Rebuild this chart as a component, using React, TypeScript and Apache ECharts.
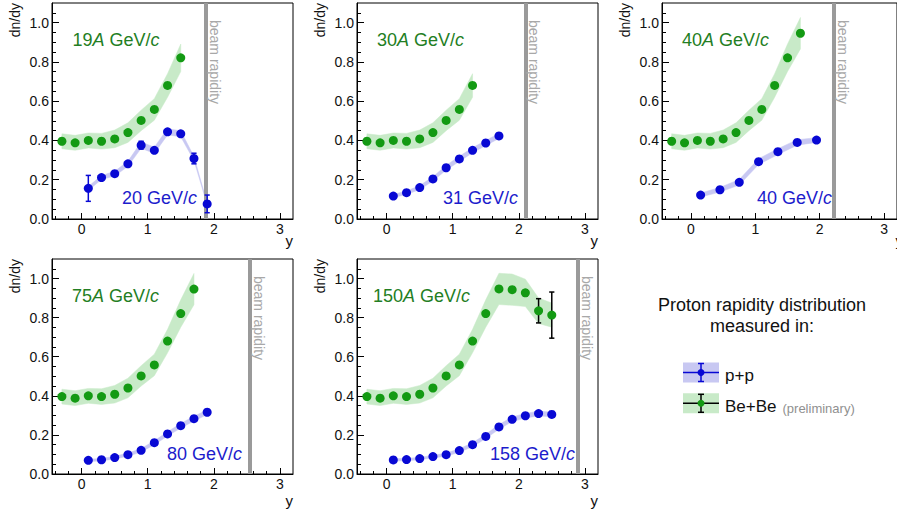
import React, { useEffect, useRef } from "react";
import * as echarts from "echarts";

const FONT = "'Liberation Sans', Arial, Helvetica, sans-serif";

// ---- tick values ----
const xMajor = [0, 1, 2, 3];
const xMinor = [-0.4, -0.2, 0.2, 0.4, 0.6, 0.8, 1.2, 1.4, 1.6, 1.8, 2.2, 2.4, 2.6, 2.8];
const yMajor = [0, 0.2, 0.4, 0.6, 0.8, 1.0];
const yMinor = [0.05, 0.1, 0.15, 0.25, 0.3, 0.35, 0.45, 0.5, 0.55, 0.65, 0.7, 0.75, 0.85, 0.9, 0.95, 1.05];

// ---- Be+Be (preliminary) ----
const beX = [-0.3, -0.1, 0.1, 0.3, 0.5, 0.7, 0.9, 1.1, 1.3, 1.5, 1.7, 1.9, 2.1, 2.3, 2.5];
const be19 = [0.396, 0.388, 0.4, 0.396, 0.408, 0.44, 0.502, 0.558, 0.68, 0.821];
const be30 = [0.396, 0.388, 0.4, 0.396, 0.408, 0.44, 0.502, 0.558, 0.68];
const be40 = [0.396, 0.388, 0.4, 0.396, 0.408, 0.44, 0.502, 0.558, 0.68, 0.821, 0.946];
const be75 = [0.396, 0.388, 0.4, 0.396, 0.408, 0.44, 0.502, 0.558, 0.68, 0.821, 0.946];
const be150 = [0.396, 0.388, 0.4, 0.396, 0.408, 0.44, 0.502, 0.558, 0.68, 0.821, 0.947, 0.943, 0.927, 0.835, 0.813];
const beStat = [0.006, 0.006, 0.006, 0.006, 0.006, 0.006, 0.007, 0.007, 0.008, 0.009, 0.01, 0.012, 0.015, 0.062, 0.118];
const beSys = [0.038, 0.038, 0.038, 0.04, 0.045, 0.05, 0.052, 0.055, 0.06, 0.07, 0.08, 0.08, 0.07, 0.065, 0.062];

// ---- p+p ----
const ppX20 = [0.1, 0.3, 0.5, 0.7, 0.9, 1.1, 1.3, 1.5, 1.7, 1.9];
const pp20 = [0.156, 0.211, 0.231, 0.281, 0.376, 0.35, 0.444, 0.434, 0.308, 0.077];
const pp20Stat = [0.066, 0.008, 0.008, 0.008, 0.02, 0.01, 0.012, 0.013, 0.027, 0.045];
const pp20Sys = [0.01, 0.01, 0.012, 0.013, 0.016, 0.016, 0.016, 0.015, 0.01, 0.004];

const ppX31 = [0.1, 0.3, 0.5, 0.7, 0.9, 1.1, 1.3, 1.5, 1.7];
const pp31 = [0.117, 0.134, 0.16, 0.204, 0.261, 0.306, 0.35, 0.387, 0.423];
const pp31Stat = [0.004, 0.004, 0.004, 0.004, 0.004, 0.005, 0.005, 0.005, 0.006];
const pp31Sys = [0.008, 0.009, 0.01, 0.011, 0.012, 0.013, 0.013, 0.013, 0.013];

const ppX40 = [0.15, 0.45, 0.75, 1.05, 1.35, 1.65, 1.95];
const pp40 = [0.122, 0.149, 0.187, 0.292, 0.343, 0.39, 0.402];
const pp40Stat = [0.004, 0.004, 0.004, 0.005, 0.005, 0.005, 0.006];
const pp40Sys = [0.01, 0.012, 0.014, 0.015, 0.015, 0.014, 0.012];

const ppX80 = [0.1, 0.3, 0.5, 0.7, 0.9, 1.1, 1.3, 1.5, 1.7, 1.9];
const pp80 = [0.07, 0.073, 0.084, 0.099, 0.121, 0.16, 0.205, 0.247, 0.283, 0.316];
const pp80Stat = [0.003, 0.003, 0.003, 0.003, 0.003, 0.004, 0.004, 0.004, 0.004, 0.005];
const pp80Sys = [0.006, 0.006, 0.007, 0.008, 0.009, 0.01, 0.011, 0.012, 0.012, 0.012];

const ppX158 = [0.1, 0.3, 0.5, 0.7, 0.9, 1.1, 1.3, 1.5, 1.7, 1.9, 2.1, 2.3, 2.5];
const pp158 = [0.072, 0.074, 0.079, 0.089, 0.099, 0.12, 0.15, 0.192, 0.241, 0.28, 0.298, 0.309, 0.305];
const pp158Stat = [0.003, 0.003, 0.003, 0.003, 0.003, 0.003, 0.004, 0.004, 0.004, 0.005, 0.005, 0.006, 0.015];
const pp158Sys = [0.006, 0.006, 0.006, 0.007, 0.008, 0.009, 0.01, 0.011, 0.012, 0.012, 0.012, 0.012, 0.012];

// beam rapidity per panel
const beamRapidity = [1.88, 2.1, 2.22, 2.55, 2.89];
const beLabels = ["19", "30", "40", "75", "150"];
const ppLabels = ["20", "31", "40", "80", "158"];

// ---- styles ----
const BLUE = "#0808d4";
const BLUE_TEXT = "#1c1ccc";
const BLUE_BAND = "#c8c8f2";
const GREEN = "#139a13";
const GREEN_TEXT = "#237e23";
const GREEN_BAND = "#c8eac8";
const GRAY_LINE = "#9a9a9a";
const GRAY_TEXT = "#a8a8a8";

const panels = [
  { beY: be19, ppX: ppX20, ppY: pp20, ppStat: pp20Stat, ppSys: pp20Sys },
  { beY: be30, ppX: ppX31, ppY: pp31, ppStat: pp31Stat, ppSys: pp31Sys },
  { beY: be40, ppX: ppX40, ppY: pp40, ppStat: pp40Stat, ppSys: pp40Sys },
  { beY: be75, ppX: ppX80, ppY: pp80, ppStat: pp80Stat, ppSys: pp80Sys },
  { beY: be150, ppX: ppX158, ppY: pp158, ppStat: pp158Stat, ppSys: pp158Sys },
];

const layout = [
  { left: 52, top: 3, height: 216, greenDx: 20.5, blueRight: 145, yLabelY: 240 },
  { left: 357, top: 3, height: 216, greenDx: 20, blueRight: 161, yLabelY: 240 },
  { left: 662, top: 3, height: 216, greenDx: 20, blueRight: 170, yLabelY: 240 },
  { left: 52, top: 259, height: 215, greenDx: 20, blueRight: 190, yLabelY: 500 },
  { left: 357, top: 259, height: 215, greenDx: 16, blueRight: 218, yLabelY: 500 },
];
const GRID_W = 241;

function bandSeries(i: number, xs: number[], ys: number[], sys: number[], color: string, extra: any = {}) {
  const n = ys.length;
  return {
    type: "custom",
    xAxisIndex: i * 2,
    yAxisIndex: i * 2,
    silent: true,
    z: 1,
    data: ys.map((y, k) => [xs[k], y - sys[k], y + sys[k]]),
    encode: { x: 0, y: [1, 2] },
    renderItem: (params: any, api: any) => {
      if (params.dataIndex !== 0) return null;
      const upper: number[][] = [];
      const lower: number[][] = [];
      for (let k = 0; k < n; k++) {
        upper.push(api.coord([xs[k], ys[k] + sys[k]]));
        lower.push(api.coord([xs[k], ys[k] - sys[k]]));
      }
      return {
        type: "polygon",
        shape: { points: upper.concat(lower.reverse()) },
        style: { fill: color, stroke: color, lineWidth: 0.5 },
      };
    },
    ...extra,
  };
}

function errSeries(i: number, xs: number[], ys: number[], err: number[], color: string) {
  return {
    type: "custom",
    xAxisIndex: i * 2,
    yAxisIndex: i * 2,
    silent: true,
    z: 3,
    data: ys.map((y, k) => [xs[k], y, err[k]]),
    encode: { x: 0, y: 1 },
    renderItem: (params: any, api: any) => {
      const x = api.value(0);
      const y = api.value(1);
      const e = api.value(2);
      const t = api.coord([x, y + e]);
      const b = api.coord([x, y - e]);
      const hw = 2.6;
      const st = { stroke: color, lineWidth: 1.5 };
      return {
        type: "group",
        children: [
          { type: "line", shape: { x1: t[0], y1: t[1], x2: b[0], y2: b[1] }, style: st },
          { type: "line", shape: { x1: t[0] - hw, y1: t[1], x2: t[0] + hw, y2: t[1] }, style: st },
          { type: "line", shape: { x1: b[0] - hw, y1: b[1], x2: b[0] + hw, y2: b[1] }, style: st },
        ],
      };
    },
  };
}

function buildOption() {
  const grid: any[] = [];
  const xAxis: any[] = [];
  const yAxis: any[] = [];
  const series: any[] = [];
  const graphic: any[] = [];

  panels.forEach((p, i) => {
    const L = layout[i];
    grid.push({
      left: L.left,
      top: L.top,
      width: GRID_W,
      height: L.height,
      show: true,
      borderColor: "#000",
      borderWidth: 1,
      backgroundColor: "transparent",
    });
    xAxis.push({
      type: "value",
      gridIndex: i,
      min: -0.45,
      max: 3.2,
      position: "bottom",
      axisLine: { show: true, onZero: false, lineStyle: { color: "#000", width: 1 } },
      axisTick: { show: true, inside: true, length: 6, customValues: xMajor, lineStyle: { color: "#000" } },
      axisLabel: { show: true, customValues: xMajor, margin: 3, color: "#111", fontSize: 14, fontFamily: FONT },
      splitLine: { show: false },
    });
    xAxis.push({
      type: "value",
      gridIndex: i,
      min: -0.45,
      max: 3.2,
      position: "bottom",
      axisLine: { show: false, onZero: false },
      axisTick: { show: true, inside: true, length: 3, customValues: xMinor, lineStyle: { color: "#000" } },
      axisLabel: { show: false },
      splitLine: { show: false },
    });
    yAxis.push({
      type: "value",
      gridIndex: i,
      min: 0,
      max: 1.1,
      position: "left",
      axisLine: { show: true, onZero: false, lineStyle: { color: "#000", width: 1 } },
      axisTick: { show: true, inside: true, length: 7, customValues: yMajor, lineStyle: { color: "#000" } },
      axisLabel: {
        show: true,
        customValues: yMajor,
        margin: 3,
        color: "#111",
        fontSize: 14,
        fontFamily: FONT,
        formatter: (v: number) => v.toFixed(1),
      },
      splitLine: { show: false },
    });
    yAxis.push({
      type: "value",
      gridIndex: i,
      min: 0,
      max: 1.1,
      position: "left",
      axisLine: { show: false, onZero: false },
      axisTick: { show: true, inside: true, length: 4, customValues: yMinor, lineStyle: { color: "#000" } },
      axisLabel: { show: false },
      splitLine: { show: false },
    });

    const beN = p.beY.length;
    const bx = beX.slice(0, beN);
    series.push(
      bandSeries(i, bx, p.beY, beSys.slice(0, beN), GREEN_BAND, {
        markLine: {
          silent: true,
          z: 2,
          symbol: ["none", "none"],
          animation: false,
          lineStyle: { color: GRAY_LINE, width: 4, type: "solid" },
          label: {
            show: true,
            position: "insideStartTop",
            formatter: "beam rapidity",
            color: GRAY_TEXT,
            fontSize: 14,
            fontFamily: FONT,
            distance: [17, 2],
          },
          data: [[{ coord: [beamRapidity[i], 1.1] }, { coord: [beamRapidity[i], 0] }]],
        },
      })
    );
    series.push(bandSeries(i, p.ppX, p.ppY, p.ppSys, BLUE_BAND));
    series.push(errSeries(i, bx, p.beY, beStat.slice(0, beN), "#000"));
    series.push(errSeries(i, p.ppX, p.ppY, p.ppStat, BLUE));
    series.push({
      type: "scatter",
      xAxisIndex: i * 2,
      yAxisIndex: i * 2,
      z: 4,
      symbol: "circle",
      symbolSize: 9,
      itemStyle: { color: GREEN, opacity: 1 },
      data: p.beY.map((y, k) => [bx[k], y]),
    });
    series.push({
      type: "scatter",
      xAxisIndex: i * 2,
      yAxisIndex: i * 2,
      z: 4,
      symbol: "circle",
      symbolSize: 9,
      itemStyle: { color: BLUE, opacity: 1 },
      data: p.ppY.map((y, k) => [p.ppX[k], y]),
    });

    // panel labels
    graphic.push({
      type: "text",
      x: L.left + L.greenDx,
      y: L.top + 37,
      style: {
        text: `{n|${beLabels[i]}}{i|A}{n| GeV/}{i|c}`,
        align: "left",
        verticalAlign: "middle",
        textAlign: "left",
        textVerticalAlign: "middle",
        rich: {
          n: { fontSize: 18, fontFamily: FONT, fill: GREEN_TEXT },
          i: { fontSize: 18, fontFamily: FONT, fill: GREEN_TEXT, fontStyle: "italic" },
        },
      },
    });
    graphic.push({
      type: "text",
      x: L.left + L.blueRight,
      y: L.top + 194.5,
      style: {
        text: `{n|${ppLabels[i]} GeV/}{i|c}`,
        align: "right",
        verticalAlign: "middle",
        textAlign: "right",
        textVerticalAlign: "middle",
        rich: {
          n: { fontSize: 18, fontFamily: FONT, fill: BLUE_TEXT },
          i: { fontSize: 18, fontFamily: FONT, fill: BLUE_TEXT, fontStyle: "italic" },
        },
      },
    });
    // axis titles
    graphic.push({
      type: "text",
      x: L.left - 37,
      y: L.top,
      rotation: Math.PI / 2,
      style: {
        text: "dn/dy",
        fontSize: 14,
        fontFamily: FONT,
        fill: "#111",
        align: "right",
        verticalAlign: "middle",
        textAlign: "right",
        textVerticalAlign: "middle",
      },
    });
    graphic.push({
      type: "text",
      x: L.left + GRID_W,
      y: L.yLabelY,
      style: {
        text: "y",
        fontSize: 15,
        fontFamily: FONT,
        fill: "#111",
        align: "right",
        verticalAlign: "middle",
        textAlign: "right",
        textVerticalAlign: "middle",
      },
    });
  });

  // legend block
  const tStyle = (text: string, size: number, color: string, align: string) => ({
    text,
    fontSize: size,
    fontFamily: FONT,
    fill: color,
    align,
    verticalAlign: "middle",
    textAlign: align,
    textVerticalAlign: "middle",
  });
  graphic.push({ type: "text", x: 762, y: 304.5, style: tStyle("Proton rapidity distribution", 18, "#111", "center") });
  graphic.push({ type: "text", x: 762, y: 325.5, style: tStyle("measured in:", 18, "#111", "center") });

  const entries = [
    { cy: 372.5, band: BLUE_BAND, line: BLUE, dot: BLUE, label: "p+p" },
    { cy: 403.3, band: GREEN_BAND, line: "#000", dot: GREEN, label: "Be+Be" },
  ];
  entries.forEach((e) => {
    const x0 = 683;
    const x1 = 719;
    const cx = 701;
    graphic.push({ type: "rect", shape: { x: x0, y: e.cy - 10, width: x1 - x0, height: 20 }, style: { fill: e.band } });
    graphic.push({ type: "line", shape: { x1: x0, y1: e.cy, x2: x1, y2: e.cy }, style: { stroke: e.line, lineWidth: 1.5 } });
    graphic.push({ type: "line", shape: { x1: cx, y1: e.cy - 9, x2: cx, y2: e.cy + 9 }, style: { stroke: e.line, lineWidth: 1.5 } });
    graphic.push({ type: "line", shape: { x1: cx - 3, y1: e.cy - 9, x2: cx + 3, y2: e.cy - 9 }, style: { stroke: e.line, lineWidth: 1.5 } });
    graphic.push({ type: "line", shape: { x1: cx - 3, y1: e.cy + 9, x2: cx + 3, y2: e.cy + 9 }, style: { stroke: e.line, lineWidth: 1.5 } });
    graphic.push({ type: "circle", shape: { cx, cy: e.cy, r: 3.5 }, style: { fill: e.dot } });
    graphic.push({ type: "text", x: 725, y: e.cy + 3, style: tStyle(e.label, 17, "#111", "left") });
  });
  graphic.push({ type: "text", x: 782.5, y: 408.5, style: tStyle("(preliminary)", 13, "#909090", "left") });

  return {
    animation: false,
    backgroundColor: "#ffffff",
    grid,
    xAxis,
    yAxis,
    series,
    graphic,
  };
}

export default function App() {
  const ref = useRef<HTMLDivElement>(null);
  useEffect(() => {
    if (!ref.current) return;
    const chart = echarts.init(ref.current, null, { renderer: "svg" });
    chart.setOption(buildOption() as any);
    return () => chart.dispose();
  }, []);
  return (
    <div
      ref={ref}
      style={{ position: "absolute", left: 0, top: 0, width: 897, height: 512, background: "#fff" }}
    />
  );
}
